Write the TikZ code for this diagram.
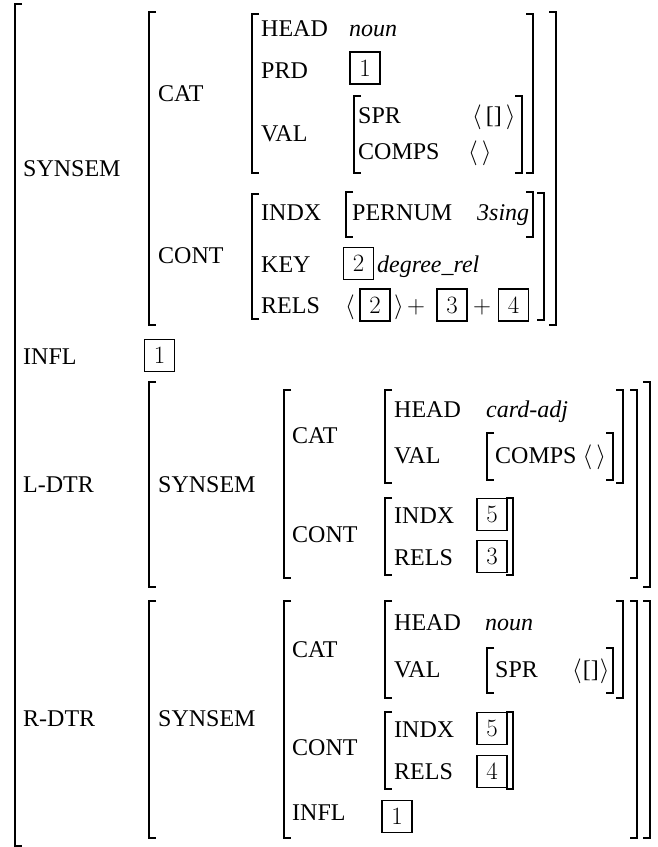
\documentclass[tikz,border=0pt]{standalone}
\usepackage{fontspec}
\setmainfont{Liberation Serif}
\newcommand\LBr[3]{\draw[brk] ({#1+7},#2) -- (#1,#2) -- (#1,#3) -- ({#1+7},#3);}
\newcommand\RBr[3]{\draw[brk] ({#1-7},#2) -- (#1,#2) -- (#1,#3) -- ({#1-7},#3);}
\tikzset{
  brk/.style={line width=1.1pt},
  lbl/.style={anchor=base west, inner sep=0pt},
  tagbox/.style={draw, line width=1.6pt, minimum width=30pt, minimum height=32pt, inner sep=0pt},
  every node/.style={font=\fontsize{24}{28}\selectfont}
}
\begin{document}
\begin{tikzpicture}[x=1pt,y=-1pt]
\useasboundingbox (0,0) rectangle (657,847);
% outer bracket
\LBr{15}{4}{846}
% ---------- SYNSEM ----------
\node[lbl] (synsem) at (23,176) {SYNSEM};
\LBr{149}{12}{325} \RBr{556}{12}{325}
\node[lbl] (cat) at (158,101) {CAT};
\node[lbl] (cont) at (158,263) {CONT};
% CAT value
\LBr{252}{14}{173} \RBr{533}{14}{173}
\node[lbl] (head) at (261,36) {HEAD};
\node[lbl] (noun) at (349,36) {\textit{noun}};
\node[lbl] (prd) at (261,78) {PRD};
\node[tagbox] (tagA) at (365,68) {$1$};
\node[lbl] (val) at (261,141) {VAL};
\LBr{354}{96}{173} \RBr{522}{96}{173}
\node[lbl] (spr) at (358,123) {SPR};
\node[lbl] (sprv) at (472,123) {$\langle$\,[]\,$\rangle$};
\node[lbl] (comps) at (358,159) {COMPS};
\node[lbl] (compsv) at (468,159) {$\langle\,\rangle$};
% CONT value
\LBr{252}{194}{319} \RBr{544}{193}{320}
\node[lbl] (indx) at (261,220) {INDX};
\LBr{346}{192}{237} \RBr{533}{192}{237}
\node[lbl] (pernum) at (352,220) {PERNUM};
\node[lbl] (sing) at (477,220) {\textit{3sing}};
\node[lbl] (key) at (261,272) {KEY};
\node[tagbox] (tagB) at (358.5,263.5) {$2$};
\node[lbl] (drel) at (377,272) {\textit{degree\_rel}};
\node[lbl] (rels) at (261,313) {RELS};
\node[lbl] (la) at (345,313) {$\langle$};
\node[tagbox] (tagC) at (375,305) {$2$};
\node[lbl] (ra) at (394,313) {$\rangle$};
\node[lbl] (pa) at (407,313) {$+$};
\node[tagbox] (tagD) at (452,305) {$3$};
\node[lbl] (pb) at (473,313) {$+$};
\node[tagbox] (tagE) at (513.5,305) {$4$};
% ---------- INFL ----------
\node[lbl] (infl) at (23,364) {INFL};
\node[tagbox] (tagF) at (159.5,355.5) {$1$};
% ---------- L-DTR ----------
\node[lbl] (ldtr) at (23,492) {L-DTR};
\LBr{149}{382}{587} \RBr{650}{382}{587}
\node[lbl] (lsynsem) at (158,492) {SYNSEM};
\LBr{284}{390}{578} \RBr{637}{390}{578}
\node[lbl] (lcat) at (292,443) {CAT};
\node[lbl] (lcont) at (292,542) {CONT};
\LBr{385}{390}{483} \RBr{623}{390}{483}
\node[lbl] (lhead) at (394,417) {HEAD};
\node[lbl] (cadj) at (486,417) {\textit{card-adj}};
\node[lbl] (lval) at (394,463) {VAL};
\LBr{487}{433}{480} \RBr{613}{433}{480}
\node[lbl] (lcomps) at (495,463) {COMPS $\langle\,\rangle$};
\LBr{385}{498}{575} \RBr{513}{498}{575}
\node[lbl] (lindx) at (394,523) {INDX};
\node[tagbox] (tagG) at (492,514.5) {$5$};
\node[lbl] (lrels) at (394,565) {RELS};
\node[tagbox] (tagH) at (492,556.5) {$3$};
% ---------- R-DTR ----------
\node[lbl] (rdtr) at (23,726) {R-DTR};
\LBr{149}{601}{838} \RBr{650}{601}{838}
\node[lbl] (rsynsem) at (158,726) {SYNSEM};
\LBr{284}{601}{838} \RBr{637}{601}{838}
\node[lbl] (rcat) at (292,657) {CAT};
\node[lbl] (rcont) at (292,755) {CONT};
\node[lbl] (rinfl) at (292,820) {INFL};
\LBr{385}{601}{698} \RBr{623}{601}{698}
\node[lbl] (rhead) at (394,630) {HEAD};
\node[lbl] (rnoun) at (485,630) {\textit{noun}};
\node[lbl] (rval) at (394,677) {VAL};
\LBr{487}{648}{693} \RBr{613}{648}{693}
\node[lbl] (rspr) at (495,677) {SPR};
\node[lbl] (rsprv) at (572,677) {$\langle$\kern1pt[]\kern1pt$\rangle$};
\LBr{385}{712}{789} \RBr{513}{712}{789}
\node[lbl] (rindx) at (394,737) {INDX};
\node[tagbox] (tagI) at (492,728.5) {$5$};
\node[lbl] (rrels) at (394,779) {RELS};
\node[tagbox] (tagJ) at (492,771.5) {$4$};
\node[tagbox] (tagK) at (397,816.5) {$1$};
\end{tikzpicture}
\end{document}
